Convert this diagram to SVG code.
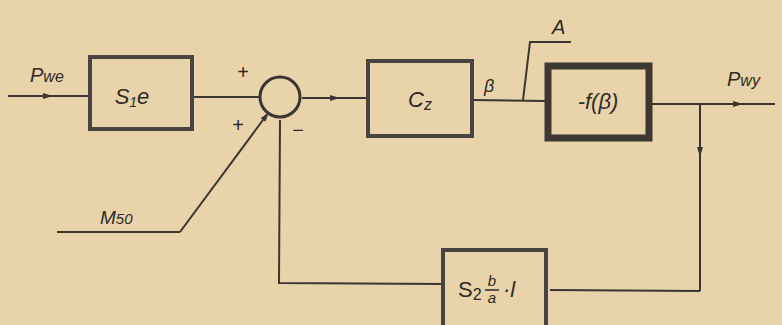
<svg xmlns="http://www.w3.org/2000/svg" width="782" height="325" viewBox="0 0 782 325">
<style>
.ln{fill:none;stroke:#3b3632;stroke-width:2}
.bx{fill:none;stroke:#4a4440;stroke-width:4}
.t{font-family:"Liberation Sans",Arial,sans-serif;font-style:italic;fill:#2f2a26}
.s{font-family:"Liberation Sans",Arial,sans-serif;fill:#2f2a26}
</style>
<defs>
<marker id="ar" viewBox="0 0 10 6" refX="5" refY="3" markerWidth="10" markerHeight="6" markerUnits="userSpaceOnUse" orient="auto">
<path d="M0,0 L10,3 L0,6 Z" fill="#3b3632"/>
</marker>
</defs>
<rect width="782" height="325" fill="#e8d3ab"/>
<g id="connectors">
<path class="ln" d="M8,96 L48,96 L89,96" marker-mid="url(#ar)"/>
<path class="ln" d="M192,97 L259,97"/>
<path class="ln" d="M57,232 L180,232"/>
<path class="ln" d="M180,232 L266,116" marker-end="url(#ar)"/>
<path class="ln" d="M302,98 L335,98 L367,98" marker-mid="url(#ar)"/>
<path class="ln" d="M473,100 L545,101"/>
<path class="ln" d="M523,100 L530,42 L571,42"/>
<path class="ln" d="M652,104 L700,104"/>
<path class="ln" d="M700,104 L738,104 L775,104" marker-mid="url(#ar)"/>
<path class="ln" d="M700,104 L700,152 L700,291" marker-mid="url(#ar)"/>
<path class="ln" d="M700,291 L550,290"/>
<path class="ln" d="M442,284 L279,283 L280,120"/>
</g>
<g id="sum">
<circle cx="280" cy="97" r="20" fill="none" stroke="#3b3632" stroke-width="3"/>
<text class="s" x="243" y="79" font-size="20" text-anchor="middle">+</text>
<text class="s" x="238" y="132" font-size="20" text-anchor="middle">+</text>
<text class="s" x="298" y="137" font-size="20" text-anchor="middle">−</text>
</g>
<g id="s1e">
<rect class="bx" x="90" y="57" width="102" height="72"/>
<text class="t" x="132" y="104" font-size="22" text-anchor="middle">S<tspan font-size="14" dy="3">1</tspan><tspan dy="-3">e</tspan></text>
</g>
<g id="cz">
<rect class="bx" x="368" y="61" width="104" height="75"/>
<text class="t" x="420" y="107" font-size="22" text-anchor="middle">C<tspan font-size="16" dy="3">z</tspan></text>
</g>
<g id="f">
<rect fill="none" stroke="#3e3834" stroke-width="7" x="548" y="66" width="101" height="72"/>
<text class="t" x="598" y="109" font-size="22" text-anchor="middle">-f(β)</text>
</g>
<g id="s2">
<rect class="bx" x="443" y="250" width="103" height="80"/>
<text class="s" x="458" y="297" font-size="22">S<tspan font-size="16" dy="3">2</tspan></text>
<text class="t" x="492" y="286" font-size="15" text-anchor="middle">b</text>
<line x1="485" y1="290" x2="499" y2="290" stroke="#2f2a26" stroke-width="1.5"/>
<text class="t" x="492" y="303" font-size="15" text-anchor="middle">a</text>
<text class="t" x="503" y="297" font-size="22">·l</text>
</g>
<g id="labels">
<text class="t" x="30" y="82" font-size="20">P<tspan font-size="16">we</tspan></text>
<text class="t" x="100" y="224" font-size="19">M<tspan font-size="15">50</tspan></text>
<text class="t" x="484" y="92" font-size="18">β</text>
<text class="t" x="552" y="34" font-size="20">A</text>
<text class="t" x="727" y="86" font-size="20">P<tspan font-size="16">wy</tspan></text>
</g>
</svg>
